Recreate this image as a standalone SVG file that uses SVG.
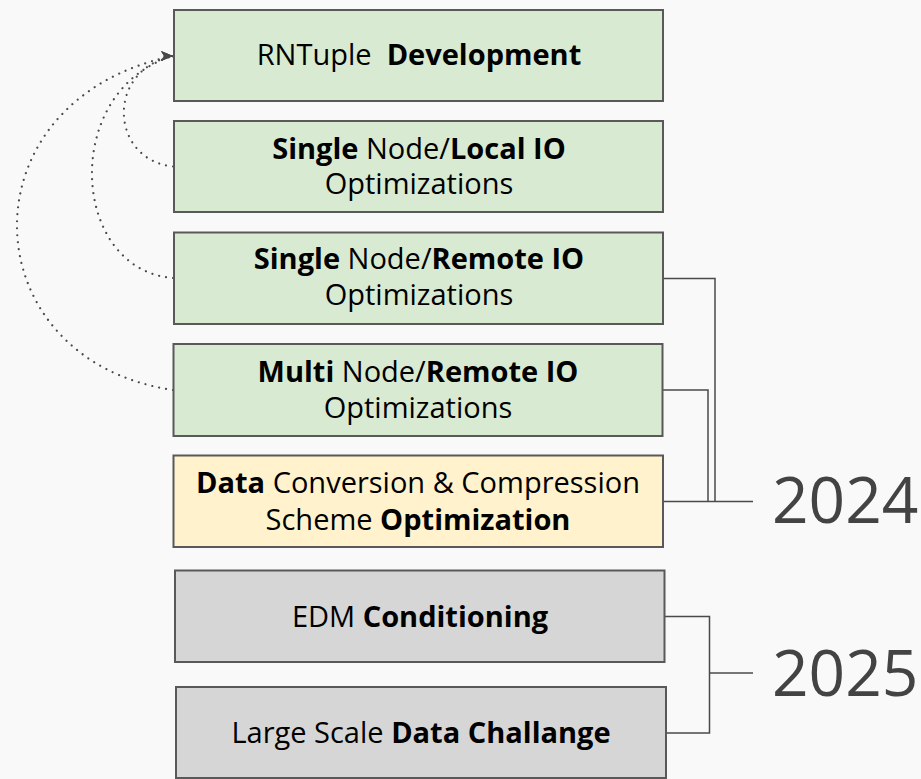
<svg xmlns="http://www.w3.org/2000/svg" width="921" height="779" viewBox="0 0 921 779">
  <style>
    .box { stroke: #595959; stroke-width: 2; }
    .green { fill: #d9ead3; }
    .yellow { fill: #fff2cc; }
    .grey { fill: #d6d6d6; }
    .label { font-family: "Open Sans", "Noto Sans", "Liberation Sans", sans-serif; font-size: 29px; fill: #000; text-anchor: middle; }
    .b { font-weight: 700; }
    .year { font-family: "Open Sans", "Noto Sans", "Liberation Sans", sans-serif; font-size: 64px; fill: #434343; }
    .dotted { fill: none; stroke: #4a4a4a; stroke-width: 2.2; stroke-linecap: round; stroke-dasharray: 0.01 7; }
    .bracket { fill: none; stroke: #4a4a4a; stroke-width: 1.5; }
  </style>
  <defs>
    <marker id="arrow" viewBox="0 0 12 10" refX="12" refY="5" markerWidth="12" markerHeight="10" markerUnits="userSpaceOnUse" orient="0">
      <path d="M0,0 L12,5 L0,10 L3,5 Z" fill="#4a4a4a"/>
    </marker>
  </defs>

  <rect width="921" height="779" fill="#f9f9f9"/>

  <g id="connectors">
    <!-- dependency curves back to the development box -->
    <path class="dotted" d="M173,166.5 C110,160 105,70 173,56" marker-end="url(#arrow)"/>
    <path class="dotted" d="M173,278 C70,270 60,90 173,56" marker-end="url(#arrow)"/>
    <path class="dotted" d="M173,390 C-30,360 -40,100 173,56" marker-end="url(#arrow)"/>
    <!-- 2024 bracket -->
    <path class="bracket" d="M663,278.5 H715 V501.5"/>
    <path class="bracket" d="M663,390 H708 V501.5"/>
    <path class="bracket" d="M663,501.5 H753"/>
    <!-- 2025 bracket -->
    <path class="bracket" d="M665,616.5 H709.5 V733 H666"/>
    <path class="bracket" d="M709.5,673 H753"/>
  </g>

  <g id="rntuple-development">
    <rect class="box green" x="174" y="10" width="489" height="91"/>
    <text class="label" x="419" y="65" xml:space="preserve">RNTuple  <tspan class="b">Development</tspan></text>
  </g>

  <g id="single-node-local-io">
    <rect class="box green" x="174" y="121" width="489" height="91"/>
    <text class="label" x="419" y="158.5"><tspan class="b">Single</tspan> Node/<tspan class="b">Local IO</tspan></text>
    <text class="label" x="419" y="194">Optimizations</text>
  </g>

  <g id="single-node-remote-io">
    <rect class="box green" x="174" y="232.5" width="489" height="91.5"/>
    <text class="label" x="419" y="268.5"><tspan class="b">Single</tspan> Node/<tspan class="b">Remote IO</tspan></text>
    <text class="label" x="419" y="304.5">Optimizations</text>
  </g>

  <g id="multi-node-remote-io">
    <rect class="box green" x="173.5" y="344" width="489" height="92"/>
    <text class="label" x="418" y="381.5"><tspan class="b">Multi</tspan> Node/<tspan class="b">Remote IO</tspan></text>
    <text class="label" x="418" y="417.5">Optimizations</text>
  </g>

  <g id="data-conversion">
    <rect class="box yellow" x="173.5" y="455.5" width="489.5" height="91.5"/>
    <text class="label" x="418" y="493"><tspan class="b">Data</tspan> Conversion &amp; Compression</text>
    <text class="label" x="418" y="529.5">Scheme <tspan class="b">Optimization</tspan></text>
  </g>

  <g id="edm-conditioning">
    <rect class="box grey" x="175" y="570.5" width="489.5" height="91.5"/>
    <text class="label" x="420" y="627">EDM <tspan class="b">Conditioning</tspan></text>
  </g>

  <g id="large-scale-data-challenge">
    <rect class="box grey" x="176" y="687" width="490" height="91"/>
    <text class="label" x="421" y="743">Large Scale <tspan class="b">Data Challange</tspan></text>
  </g>

  <g id="year-2024">
    <text class="year" x="772" y="523">2024</text>
  </g>
  <g id="year-2025">
    <text class="year" x="772" y="696">2025</text>
  </g>
</svg>
